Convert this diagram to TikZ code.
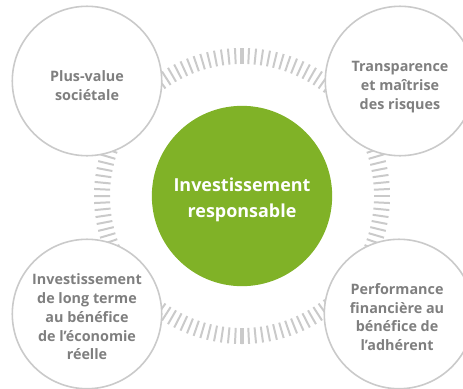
\documentclass[tikz,border=0pt]{standalone}
\usepackage{fontspec}
\setmainfont[Ligatures=NoCommon]{Open Sans}
\usetikzlibrary{positioning}
\definecolor{igreen}{HTML}{80B227}
\definecolor{itext}{HTML}{7F7F7F}
\definecolor{iline}{HTML}{CACACA}
\tikzset{bubble/.style = {circle, draw=iline, line width=1.6, fill=white,
                          minimum size=150, inner sep=0}}
\tikzset{btext/.style = {align=center, inner sep=0, text=itext,
                         font=\bfseries\fontsize{14.4}{18.8}\selectfont}}
\tikzset{core/.style = {circle, fill=igreen, minimum size=181, inner sep=0}}
\tikzset{ctext/.style = {align=center, inner sep=0, text=white,
                         font=\bfseries\fontsize{18}{26}\selectfont}}
\tikzset{tick/.style = {iline, line width=2}}

\begin{document}
\begin{tikzpicture}[x=1bp, y=1bp]
  \useasboundingbox (0, 0) rectangle (463, 388);

  % dashed ring behind everything
  \coordinate (mid) at (242, 192);
  \foreach \i in {0, ..., 131}
    \draw [tick] ([shift={(\i*2.7273:132)}]mid) -- ([shift={(\i*2.7273:148)}]mid);
  \draw [tick, line width=3.5] ([shift={(90:132)}]mid) -- ([shift={(90:148)}]mid);
  \draw [tick, line width=3.5] ([shift={(270:132)}]mid) -- ([shift={(270:148)}]mid);

  \node [core] (core) at (mid) {};
  \node [ctext] (core-t) at ([yshift=-4]core) {Investissement\\responsable};

  \node [bubble] (societal) at (87, 307) {};
  \node [bubble] (risks) at (400, 307) {};
  \node [bubble] (longterm) at (87, 74) {};
  \node [bubble] (perf) at (399, 74) {};

  \node [btext] (societal-t) at ([yshift=-4.5]societal) {Plus-value\\sociétale};
  \node [btext] (risks-t) at ([yshift=-6]risks)
        {Transparence\\et maîtrise\\des risques};
  \node [btext] (longterm-t) at ([yshift=-3]longterm)
        {Investissement\\de long terme\\au bénéfice\\de l’économie\\réelle};
  \node [btext] (perf-t) at ([xshift=-2, yshift=-3]perf)
        {Performance\\financière au\\bénéfice de\\l’adhérent};
\end{tikzpicture}
\end{document}
